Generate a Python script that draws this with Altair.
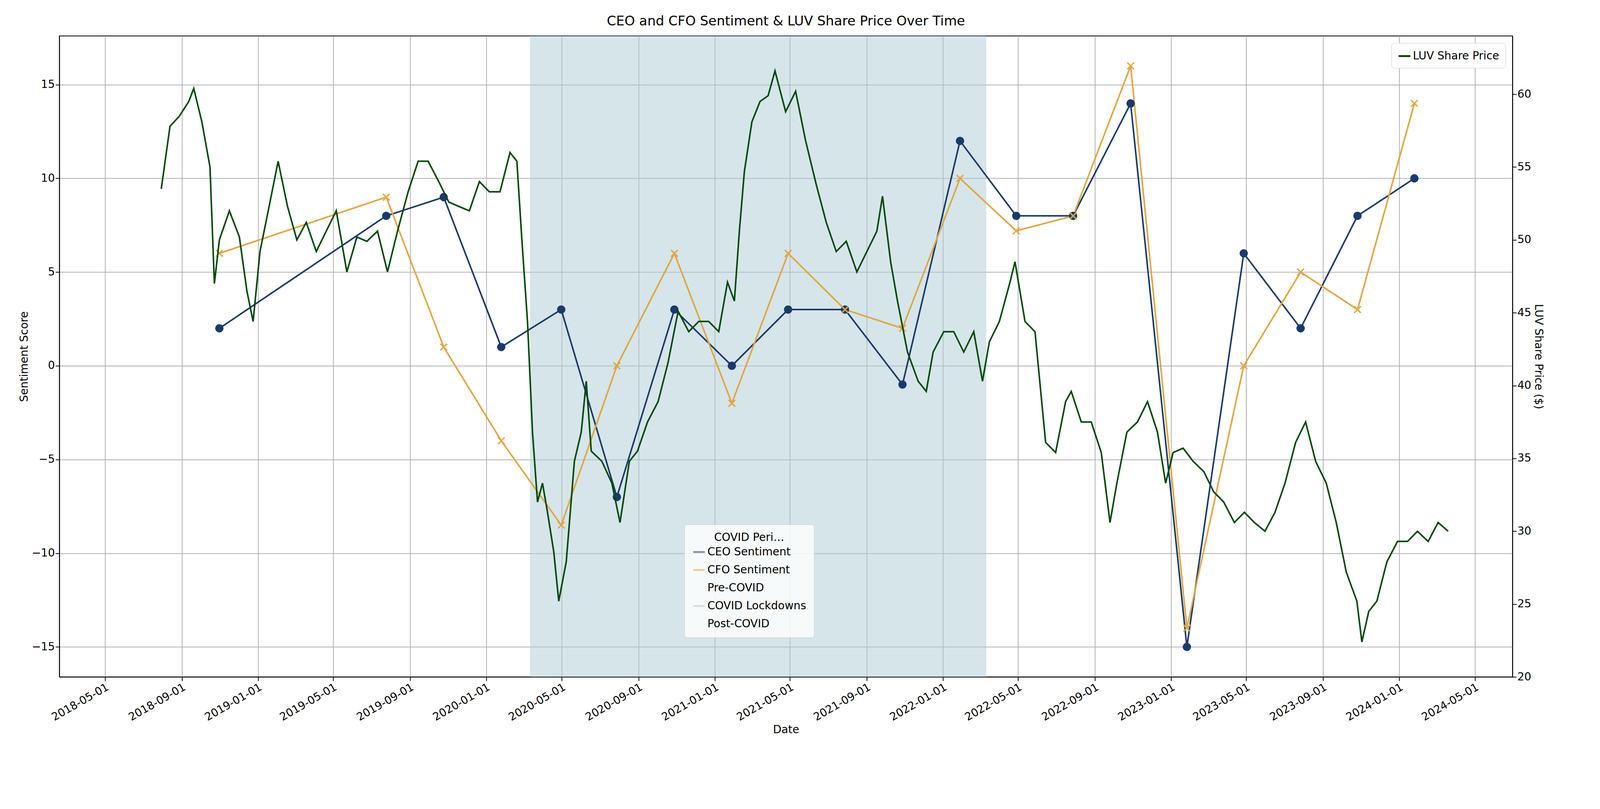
import pandas as pd
import altair as alt

# sentiment per earnings call
call_dates = ["2018-10-31", "2019-07-25", "2019-10-25", "2020-01-25", "2020-04-30",
              "2020-07-28", "2020-10-28", "2021-01-28", "2021-04-28", "2021-07-28",
              "2021-10-28", "2022-01-28", "2022-04-28", "2022-07-28", "2022-10-28",
              "2023-01-26", "2023-04-27", "2023-07-27", "2023-10-26", "2024-01-25"]
ceo_sentiment = [2, 8, 9, 1, 3, -7, 3, 0, 3, 3, -1, 12, 8, 8, 14, -15, 6, 2, 8, 10]
cfo_sentiment = [6, 9, 1, -4, -8.5, 0, 6, -2, 6, 3, 2, 10, 7.2, 8, 16, -14, 0, 5, 3, 14]

# share price, days after 2018-05-01
price_day = [90, 104, 119, 134, 142, 155, 168, 175, 183, 199, 215, 227, 237, 248, 264, 277,
             292, 307, 322, 338, 354, 370, 387, 403, 419, 436, 452, 468, 485, 501, 517, 534,
             550, 566, 583, 599, 615, 632, 648, 659, 667, 676, 684, 692, 700, 708, 718, 726,
             738, 751, 762, 770, 778, 795, 811, 824, 839, 852, 868, 885, 901, 917, 934, 950,
             966, 982, 996, 1007, 1015, 1023, 1035, 1048, 1061, 1072, 1089, 1105, 1121, 1138,
             1154, 1170, 1186, 1203, 1219, 1235, 1244, 1257, 1268, 1284, 1301, 1314, 1325,
             1342, 1358, 1374, 1390, 1404, 1415, 1431, 1448, 1456, 1472, 1488, 1505, 1521,
             1537, 1546, 1562, 1578, 1594, 1608, 1619, 1635, 1652, 1668, 1684, 1697, 1709,
             1725, 1741, 1758, 1774, 1790, 1807, 1823, 1839, 1856, 1872, 1888, 1905, 1921,
             1937, 1954, 1970, 1986, 2003, 2011, 2022, 2035, 2051, 2068, 2084, 2100, 2117,
             2133, 2149]
price = [53.5, 57.8, 58.5, 59.5, 60.4, 58.1, 55.0, 47.0, 50.0, 52.0, 50.2, 46.5, 44.4, 49.2,
         52.6, 55.4, 52.3, 50.0, 51.2, 49.2, 50.6, 52.0, 47.8, 50.2, 49.9, 50.6, 47.8, 50.6,
         53.3, 55.4, 55.4, 54.0, 52.6, 52.3, 52.0, 54.0, 53.3, 53.3, 56.0, 55.4, 50.0, 44.4,
         36.8, 32.0, 33.3, 31.3, 28.6, 25.2, 27.9, 34.8, 36.8, 40.3, 35.5, 34.8, 33.3, 30.6,
         34.8, 35.5, 37.5, 38.9, 41.6, 45.1, 43.7, 44.4, 44.4, 43.7, 47.1, 45.8, 50.6, 54.7,
         58.1, 59.5, 59.9, 61.6, 58.8, 60.2, 56.8, 53.8, 51.2, 49.2, 49.9, 47.8, 49.2, 50.6,
         53.0, 48.5, 45.8, 42.3, 40.3, 39.6, 42.3, 43.7, 43.7, 42.3, 43.7, 40.3, 43.0, 44.4,
         47.1, 48.5, 44.4, 43.7, 36.1, 35.4, 38.9, 39.6, 37.5, 37.5, 35.4, 30.6, 33.3, 36.8,
         37.5, 38.9, 36.8, 33.3, 35.4, 35.7, 34.8, 34.1, 32.7, 32.0, 30.6, 31.3, 30.6, 30.0,
         31.3, 33.3, 36.1, 37.5, 34.8, 33.3, 30.6, 27.2, 25.2, 22.4, 24.5, 25.2, 27.9, 29.3,
         29.3, 30.0, 29.3, 30.6, 30.0]

covid_start, covid_end = "2020-03-11", "2022-03-11"
tick_dates = [f"{y}-{m:02d}-01" for y in range(2018, 2025) for m in (1, 5, 9)]
tick_dates = [d for d in tick_dates if "2018-05-01" <= d <= "2024-05-01"]

FONT = "DejaVu Sans"
legend_domain = ["CEO Sentiment", "CFO Sentiment", "Pre-COVID", "COVID Lockdowns", "Post-COVID"]
legend_range = ["#1b3a6b", "#e0a640", "transparent", "#aecbd6", "transparent"]
XMARK = "M-1,-1L1,1M1,-1L-1,1"

sent = pd.DataFrame({"date": call_dates * 2,
                     "score": ceo_sentiment + cfo_sentiment,
                     "who": ["CEO Sentiment"] * 20 + ["CFO Sentiment"] * 20})
prices = pd.DataFrame({"date": pd.Timestamp("2018-05-01") + pd.to_timedelta(price_day, unit="D"),
                       "price": price, "s": "LUV Share Price"})
band = pd.DataFrame({"start": [covid_start], "end": [covid_end], "who": ["COVID Lockdowns"]})

xscale = alt.Scale(domain=["2018-02-17", "2024-06-30"])
xaxis = alt.Axis(values=tick_dates, format="%Y-%m-%d", labelAngle=-30, labelAlign="right",
                 title="Date", grid=True, gridColor="#b0b0b0", tickSize=10)
yscale = alt.Scale(domain=[-16.6, 17.6], nice=False)
yaxis = alt.Axis(values=list(range(-15, 20, 5)), title="Sentiment Score", grid=True,
                 gridColor="#b0b0b0", tickSize=10)
covid_legend = alt.Legend(title="COVID Periods", orient="none", legendX=1600, legendY=1250,
                          symbolType="stroke", symbolStrokeWidth=5, symbolSize=900,
                          titleAnchor="middle", labelLimit=0, values=legend_domain,
                          fillColor="rgba(255,255,255,0.8)", strokeColor="#cccccc",
                          padding=20, cornerRadius=8)
color = alt.Color("who:N", scale=alt.Scale(domain=legend_domain, range=legend_range),
                  legend=covid_legend)

grid_layer = alt.Chart(sent).mark_point(opacity=0).encode(
    x=alt.X("date:T", scale=xscale, axis=xaxis),
    y=alt.Y("score:Q", scale=yscale, axis=yaxis))

band_layer = alt.Chart(band).mark_rect(opacity=0.5).encode(
    x="start:T", x2="end:T", color=color)

lines = alt.Chart(sent).mark_line(strokeWidth=4).encode(
    x="date:T", y=alt.Y("score:Q", scale=yscale), color=color)
ceo_pts = alt.Chart(sent[sent.who == "CEO Sentiment"]).mark_point(
    filled=True, size=450, opacity=1, shape="circle", color="#1b3a6b").encode(
    x="date:T", y=alt.Y("score:Q", scale=yscale))
cfo_pts = alt.Chart(sent[sent.who == "CFO Sentiment"]).mark_point(
    size=300, opacity=1, shape=XMARK, filled=False, strokeWidth=3.5, color="#e0a640").encode(
    x="date:T", y=alt.Y("score:Q", scale=yscale))

left = alt.layer(grid_layer, band_layer, lines, ceo_pts, cfo_pts)

right = alt.Chart(prices).mark_line(strokeWidth=4, color="#034a0a").encode(
    x=alt.X("date:T", scale=xscale),
    y=alt.Y("price:Q", scale=alt.Scale(domain=[20, 64], nice=False),
            axis=alt.Axis(orient="right", values=list(range(20, 65, 5)),
                          title="LUV Share Price ($)", grid=False, tickSize=10)),
    stroke=alt.Stroke("s:N", scale=alt.Scale(range=["#034a0a"]),
                      legend=alt.Legend(title=None, orient="top-right", symbolType="stroke",
                                        symbolStrokeWidth=5, symbolSize=900, labelLimit=0,
                                        fillColor="white", strokeColor="#cccccc",
                                        padding=16, cornerRadius=8)))

chart = alt.layer(left, right).resolve_scale(y="independent", color="independent",
                                             stroke="independent").properties(
    width=3720, height=1640,
    title=alt.Title("CEO and CFO Sentiment & LUV Share Price Over Time", fontSize=34,
                    font=FONT, fontWeight="normal", offset=20),
    padding={"left": 40, "top": 30, "right": 20, "bottom": 10},
).configure_view(stroke="black", strokeWidth=2).configure_axis(
    labelFont=FONT, titleFont=FONT, labelFontSize=28, titleFontSize=28,
    titleFontWeight="normal", labelColor="black", titleColor="black",
    domainColor="black", tickColor="black", domainWidth=2, tickWidth=2, gridWidth=2,
).configure_legend(labelFont=FONT, titleFont=FONT, labelFontSize=28, titleFontSize=28,
                   titleFontWeight="normal", rowPadding=14)

chart.save("out.html", embed_options={"renderer": "svg", "actions": False})
